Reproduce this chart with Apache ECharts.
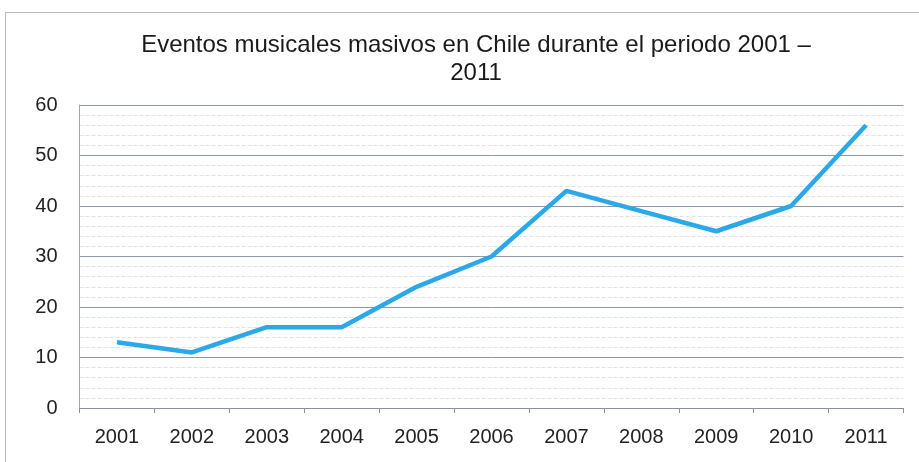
<!DOCTYPE html>
<html><head><meta charset="utf-8">
<script src="https://cdn.jsdelivr.net/npm/echarts@6/dist/echarts.min.js"></script>
<style>html,body{margin:0;padding:0;background:#fff}#c{width:919px;height:462px}
#frame{position:absolute;left:5px;top:12px;width:930px;height:470px;border:1px solid #b8bcc4;pointer-events:none}</style>
</head><body><div id="c"></div><div id="frame"></div>
<script>
const titleText = 'Eventos musicales masivos en Chile durante el periodo 2001 –\n2011';
const years = ['2001','2002','2003','2004','2005','2006','2007','2008','2009','2010','2011'];
const eventos = [13, 11, 16, 16, 24, 30, 43, 39, 35, 40, 56];
const chart = echarts.init(document.getElementById('c'));
chart.setOption({
  animation: false,
  title: { text: titleText, left: 471, textAlign: 'center', top: 26,
    textStyle: { fontFamily: 'Liberation Sans', fontWeight: 'normal', fontSize: 24, color: '#1a1a1a', lineHeight: 28 } },
  grid: { left: 79.5, right: 15.5, top: 105, bottom: 54 },
  xAxis: { type: 'category', data: years, boundaryGap: true,
    axisLine: { lineStyle: { color: '#8a909a', width: 1 } },
    axisTick: { show: true, length: 5, lineStyle: { color: '#8a909a' } },
    axisLabel: { fontFamily: 'Liberation Sans', fontSize: 20, color: '#222', margin: 19 } },
  yAxis: { type: 'value', min: 0, max: 60, interval: 10,
    axisLine: { show: true, lineStyle: { color: '#a0a6b0' } },
    axisTick: { show: false },
    axisLabel: { fontFamily: 'Liberation Sans', fontSize: 20, color: '#222', margin: 22 },
    splitLine: { lineStyle: { color: '#8e98aa', width: 1 } },
    minorTick: { show: false, splitNumber: 5 },
    minorSplitLine: { show: true, lineStyle: { color: '#dde1e8', width: 1, type: 'dashed' } } },
  series: [{ type: 'line', data: eventos, symbol: 'none',
    lineStyle: { color: '#2aa8e8', width: 4.5 } }]
});
</script></body></html>
